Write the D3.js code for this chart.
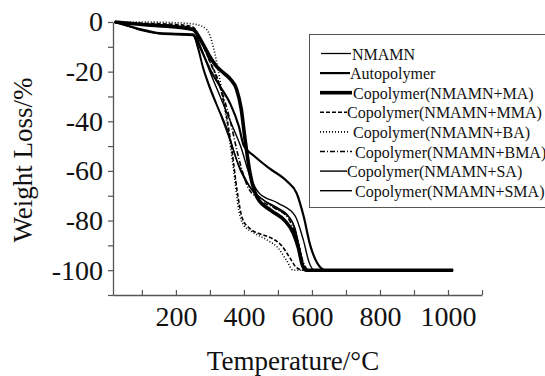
<!DOCTYPE html>
<html>
<head>
<meta charset="utf-8">
<script src="https://cdn.jsdelivr.net/npm/d3@7"></script>
<style>
  html, body { margin: 0; padding: 0; background: #fff; }
  svg { display: block; font-family: "Liberation Serif", "Times New Roman", serif; }
</style>
</head>
<body>
<div id="chart"></div>
<script>
// TGA curves, [temperature °C, weight loss %]
const nmamn = [[20,0],[60,-1.5],[100,-3.5],[150,-4.8],[200,-5.2],[250,-5.5],[265,-10],[280,-18],[300,-26],[320,-33],[350,-43],[380,-56],[400,-62],[420,-67],[450,-71],[500,-75],[530,-78],[550,-83],[565,-92],[580,-100],[1015,-100]];
const autopolymer = [[20,0],[100,-3],[150,-4.5],[250,-5],[270,-10],[300,-19],[330,-26],[360,-33],[385,-42],[400,-50],[430,-54],[475,-59],[525,-64],[555,-69],[575,-78],[595,-90],[615,-97],[640,-100],[1015,-100]];
const copoMA = [[20,0],[100,-1],[200,-2],[250,-3],[280,-9],[300,-14],[320,-18],[340,-20.5],[360,-23],[378,-27],[392,-35],[403,-47],[418,-61],[440,-71],[480,-76],[520,-80],[545,-85],[560,-91],[572,-98],[582,-100],[1015,-100]];
const copoMMA = [[20,0],[100,-0.5],[200,-1],[250,-2],[275,-8],[300,-16],[325,-24],[345,-35],[365,-52],[380,-68],[395,-79],[420,-83.5],[450,-85.5],[480,-87],[510,-90],[535,-95],[555,-99],[575,-100],[1015,-100]];
const copoBA = [[20,0],[100,0],[200,-0.3],[260,-1],[290,-3],[310,-10],[325,-20],[340,-32],[355,-45],[370,-60],[385,-76],[400,-82],[430,-85],[470,-88],[500,-91],[525,-96],[545,-100],[1015,-100]];
const copoBMA = [[20,0],[100,-0.8],[200,-1.5],[250,-2.5],[275,-8],[300,-16],[330,-26],[360,-40],[385,-55],[410,-66],[440,-71],[490,-75],[530,-79],[555,-87],[575,-97],[590,-100],[1015,-100]];
const copoSA = [[20,0],[100,-3.2],[150,-4.5],[250,-5.2],[265,-11],[280,-19],[300,-27],[330,-37],[360,-48],[390,-60],[420,-67],[460,-72],[500,-75.5],[540,-80],[560,-89],[575,-98],[585,-100],[1015,-100]];
const copoSMA = [[20,0],[100,-1],[200,-2],[250,-3],[270,-9],[300,-20],[330,-30],[360,-40],[390,-50],[420,-63],[445,-69],[500,-73],[550,-78],[575,-88],[592,-97],[607,-100],[1015,-100]];

const seriesNames = ['NMAMN', 'Autopolymer', 'Copolymer(NMAMN+MA)', 'Copolymer(NMAMN+MMA)',
  'Copolymer(NMAMN+BA)', 'Copolymer(NMAMN+BMA)', 'Copolymer(NMAMN+SA)', 'Copolymer(NMAMN+SMA)'];
const seriesData = [nmamn, autopolymer, copoMA, copoMMA, copoBA, copoBMA, copoSA, copoSMA];

const xTicks = [200, 400, 600, 800, 1000];
const yTicks = [0, -20, -40, -60, -80, -100];

const width = 545, height = 376;
const serif = '"Liberation Serif", "Times New Roman", serif';

// line styles
const strokeW = [1.3, 2.2, 3.6, 1.6, 1.6, 1.6, 1.4, 1.4];
const dashes = [null, null, null, '4,2', '1,2', '5,2,1,2', null, null];
const legendLineX1 = [321, 320, 320, 320, 320, 320, 320, 320];
const legendLineX2 = [351, 350, 352, 347, 350, 352, 347, 352];
const legendTextX = [352, 350, 353, 347, 353, 355, 347, 355];

const svg = d3.select('#chart').append('svg')
  .attr('width', width)
  .attr('height', height);

const x = d3.scaleLinear().domain([15, 1100]).range([113, 482]);
const y = d3.scaleLinear().domain([-110, 0]).range([295, 22]);

// x axis: ticks point inward
const xAxis = svg.append('g')
  .attr('transform', `translate(0,${y(-110)})`)
  .call(d3.axisBottom(x).tickValues(d3.range(100, 1101, 100))
    .tickSizeInner(-5).tickSizeOuter(0).tickPadding(11)
    .tickFormat(d => xTicks.includes(d) ? d : ''));

const yAxis = svg.append('g')
  .attr('transform', `translate(${x(15)},0)`)
  .call(d3.axisLeft(y).tickValues(d3.range(0, -111, -10))
    .tickSize(5).tickSizeOuter(0).tickPadding(5)
    .tickFormat(d => yTicks.includes(d) ? d : ''));

[xAxis, yAxis].forEach(a => {
  a.attr('font-family', serif).attr('font-size', 28);
  a.select('.domain').attr('stroke', '#555').attr('stroke-width', 1.3);
  a.selectAll('.tick line').attr('stroke', '#555').attr('stroke-width', 1.2);
  a.selectAll('.tick text').attr('fill', '#111');
});

const line = d3.line()
  .x(d => x(d[0]))
  .y(d => y(d[1]))
  .curve(d3.curveMonotoneX);

svg.append('g').selectAll('path')
  .data(seriesData)
  .join('path')
  .attr('fill', 'none')
  .attr('stroke', '#000')
  .attr('stroke-width', (d, i) => strokeW[i])
  .attr('stroke-dasharray', (d, i) => dashes[i])
  .attr('stroke-linejoin', 'round')
  .attr('d', line);

// axis titles
svg.append('text')
  .attr('x', 293)
  .attr('y', 370)
  .attr('text-anchor', 'middle')
  .attr('font-family', serif)
  .attr('font-size', 27)
  .attr('fill', '#111')
  .text('Temperature/°C');

svg.append('text')
  .attr('transform', 'translate(32,160) rotate(-90)')
  .attr('text-anchor', 'middle')
  .attr('font-family', serif)
  .attr('font-size', 27)
  .attr('fill', '#111')
  .text('Weight Loss/%');

// legend
const legend = svg.append('g');
legend.append('rect')
  .attr('x', 309.5).attr('y', 34.5)
  .attr('width', 250).attr('height', 173)
  .attr('fill', '#fff')
  .attr('stroke', '#555')
  .attr('stroke-width', 1);

const rows = legend.selectAll('g.row')
  .data(seriesNames)
  .join('g')
  .attr('class', 'row')
  .attr('transform', (d, i) => `translate(0,${53.5 + i * 19.6})`);

rows.append('line')
  .attr('x1', (d, i) => legendLineX1[i])
  .attr('x2', (d, i) => legendLineX2[i])
  .attr('stroke', '#000')
  .attr('stroke-width', (d, i) => strokeW[i])
  .attr('stroke-dasharray', (d, i) => dashes[i]);

rows.append('text')
  .attr('x', (d, i) => legendTextX[i])
  .attr('y', 6)
  .attr('font-family', serif)
  .attr('font-size', 16)
  .attr('fill', '#111')
  .text(d => d);
</script>
</body>
</html>
